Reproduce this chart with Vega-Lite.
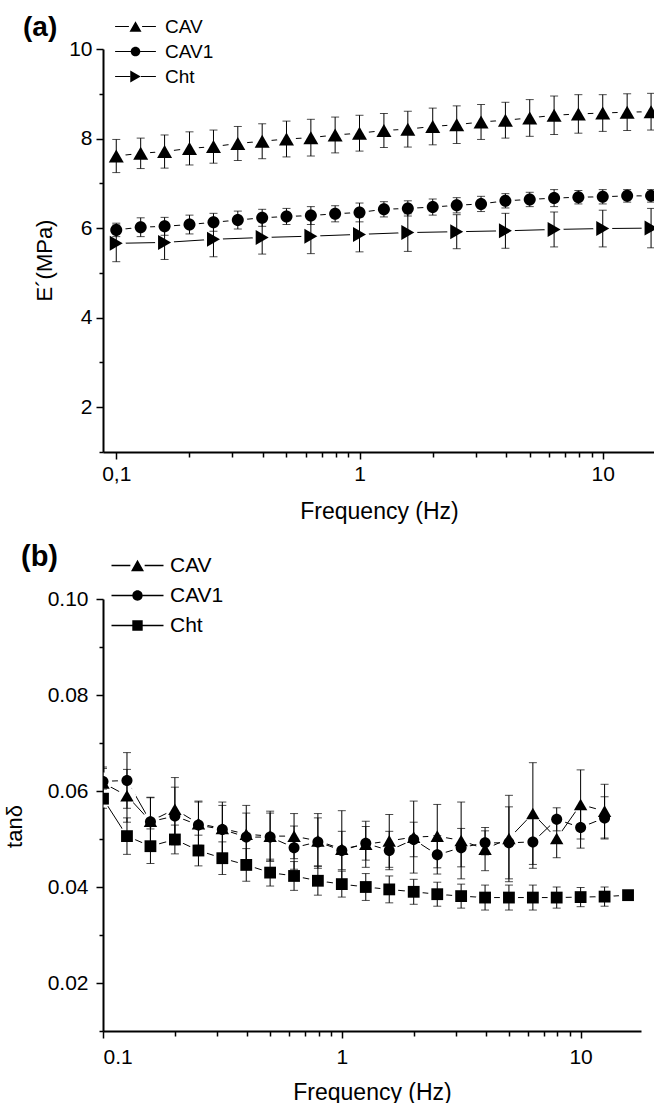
{
  "$schema": "https://vega.github.io/schema/vega-lite/v6.json",
  "background": "white",
  "padding": {"left": 3, "top": 14, "right": 0, "bottom": 0},
  "config": {
    "view": {"stroke": null},
    "font": "Liberation Sans",
    "axis": {
      "grid": false,
      "zindex": 1,
      "domainColor": "black",
      "domainWidth": 2,
      "tickColor": "black",
      "tickWidth": 1.5,
      "labelColor": "black",
      "labelFont": "Liberation Sans",
      "labelFontSize": 21,
      "labelOverlap": false,
      "titleColor": "black",
      "titleFont": "Liberation Sans",
      "titleFontSize": 22,
      "titleFontWeight": "normal"
    },
    "legend": {"labelFont": "Liberation Sans", "labelColor": "black"},
    "title": {"font": "Liberation Sans", "color": "black", "fontWeight": "bold"}
  },
  "datasets": {
    "storage": [
      {"series": "CAV", "freq": 0.1, "val": 7.61, "err": 0.37},
      {"series": "CAV", "freq": 0.126, "val": 7.67, "err": 0.34},
      {"series": "CAV", "freq": 0.158, "val": 7.71, "err": 0.37},
      {"series": "CAV", "freq": 0.2, "val": 7.78, "err": 0.37},
      {"series": "CAV", "freq": 0.251, "val": 7.82, "err": 0.37},
      {"series": "CAV", "freq": 0.316, "val": 7.89, "err": 0.38},
      {"series": "CAV", "freq": 0.398, "val": 7.94, "err": 0.39},
      {"series": "CAV", "freq": 0.501, "val": 7.99, "err": 0.4},
      {"series": "CAV", "freq": 0.631, "val": 8.02, "err": 0.41},
      {"series": "CAV", "freq": 0.794, "val": 8.08, "err": 0.4},
      {"series": "CAV", "freq": 1, "val": 8.12, "err": 0.4},
      {"series": "CAV", "freq": 1.26, "val": 8.18, "err": 0.38},
      {"series": "CAV", "freq": 1.58, "val": 8.21, "err": 0.4},
      {"series": "CAV", "freq": 2, "val": 8.27, "err": 0.41},
      {"series": "CAV", "freq": 2.51, "val": 8.31, "err": 0.42},
      {"series": "CAV", "freq": 3.16, "val": 8.37, "err": 0.39},
      {"series": "CAV", "freq": 3.98, "val": 8.41, "err": 0.4},
      {"series": "CAV", "freq": 5.01, "val": 8.46, "err": 0.41},
      {"series": "CAV", "freq": 6.31, "val": 8.52, "err": 0.43},
      {"series": "CAV", "freq": 7.94, "val": 8.55, "err": 0.43},
      {"series": "CAV", "freq": 10, "val": 8.57, "err": 0.41},
      {"series": "CAV", "freq": 12.6, "val": 8.59, "err": 0.41},
      {"series": "CAV", "freq": 15.8, "val": 8.6, "err": 0.41},
      {"series": "CAV1", "freq": 0.1, "val": 5.96, "err": 0.15},
      {"series": "CAV1", "freq": 0.126, "val": 6.02, "err": 0.21},
      {"series": "CAV1", "freq": 0.158, "val": 6.04, "err": 0.2},
      {"series": "CAV1", "freq": 0.2, "val": 6.08, "err": 0.21},
      {"series": "CAV1", "freq": 0.251, "val": 6.13, "err": 0.2},
      {"series": "CAV1", "freq": 0.316, "val": 6.18, "err": 0.2},
      {"series": "CAV1", "freq": 0.398, "val": 6.23, "err": 0.19},
      {"series": "CAV1", "freq": 0.501, "val": 6.26, "err": 0.18},
      {"series": "CAV1", "freq": 0.631, "val": 6.28, "err": 0.2},
      {"series": "CAV1", "freq": 0.794, "val": 6.32, "err": 0.18},
      {"series": "CAV1", "freq": 1, "val": 6.35, "err": 0.21},
      {"series": "CAV1", "freq": 1.26, "val": 6.42, "err": 0.17},
      {"series": "CAV1", "freq": 1.58, "val": 6.44, "err": 0.17},
      {"series": "CAV1", "freq": 2, "val": 6.47, "err": 0.18},
      {"series": "CAV1", "freq": 2.51, "val": 6.51, "err": 0.17},
      {"series": "CAV1", "freq": 3.16, "val": 6.54, "err": 0.17},
      {"series": "CAV1", "freq": 3.98, "val": 6.61, "err": 0.16},
      {"series": "CAV1", "freq": 5.01, "val": 6.64, "err": 0.16},
      {"series": "CAV1", "freq": 6.31, "val": 6.67, "err": 0.19},
      {"series": "CAV1", "freq": 7.94, "val": 6.69, "err": 0.15},
      {"series": "CAV1", "freq": 10, "val": 6.7, "err": 0.16},
      {"series": "CAV1", "freq": 12.6, "val": 6.72, "err": 0.14},
      {"series": "CAV1", "freq": 15.8, "val": 6.72, "err": 0.14},
      {"series": "Cht", "freq": 0.1, "val": 5.66, "err": 0.41},
      {"series": "Cht", "freq": 0.158, "val": 5.68, "err": 0.38},
      {"series": "Cht", "freq": 0.251, "val": 5.75, "err": 0.39},
      {"series": "Cht", "freq": 0.398, "val": 5.79, "err": 0.37},
      {"series": "Cht", "freq": 0.631, "val": 5.82, "err": 0.39},
      {"series": "Cht", "freq": 1, "val": 5.86, "err": 0.39},
      {"series": "Cht", "freq": 1.58, "val": 5.9, "err": 0.42},
      {"series": "Cht", "freq": 2.51, "val": 5.92, "err": 0.38},
      {"series": "Cht", "freq": 3.98, "val": 5.94, "err": 0.39},
      {"series": "Cht", "freq": 6.31, "val": 5.97, "err": 0.39},
      {"series": "Cht", "freq": 10, "val": 5.99, "err": 0.41},
      {"series": "Cht", "freq": 15.8, "val": 6.0, "err": 0.44}
    ],
    "loss": [
      {"series": "CAV", "freq": 0.1, "val": 0.0617, "err": 0.003},
      {"series": "CAV", "freq": 0.126, "val": 0.059, "err": 0.0055},
      {"series": "CAV", "freq": 0.158, "val": 0.0537, "err": 0.005},
      {"series": "CAV", "freq": 0.2, "val": 0.0562, "err": 0.0066},
      {"series": "CAV", "freq": 0.251, "val": 0.0532, "err": 0.0045},
      {"series": "CAV", "freq": 0.316, "val": 0.0522, "err": 0.0055},
      {"series": "CAV", "freq": 0.398, "val": 0.051, "err": 0.006},
      {"series": "CAV", "freq": 0.501, "val": 0.0506, "err": 0.0052},
      {"series": "CAV", "freq": 0.631, "val": 0.0506, "err": 0.0047},
      {"series": "CAV", "freq": 0.794, "val": 0.0496, "err": 0.0057},
      {"series": "CAV", "freq": 1, "val": 0.0479, "err": 0.008},
      {"series": "CAV", "freq": 1.26, "val": 0.0489, "err": 0.0048},
      {"series": "CAV", "freq": 1.58, "val": 0.0496, "err": 0.0055},
      {"series": "CAV", "freq": 2, "val": 0.0504, "err": 0.0075},
      {"series": "CAV", "freq": 2.51, "val": 0.0506, "err": 0.0066},
      {"series": "CAV", "freq": 3.16, "val": 0.0497, "err": 0.008},
      {"series": "CAV", "freq": 3.98, "val": 0.0479, "err": 0.0045},
      {"series": "CAV", "freq": 5.01, "val": 0.0501, "err": 0.009},
      {"series": "CAV", "freq": 6.31, "val": 0.0553, "err": 0.0106},
      {"series": "CAV", "freq": 7.94, "val": 0.0501, "err": 0.004},
      {"series": "CAV", "freq": 10, "val": 0.0572, "err": 0.0072},
      {"series": "CAV", "freq": 12.6, "val": 0.0558, "err": 0.0056},
      {"series": "CAV1", "freq": 0.1, "val": 0.062, "err": 0.003},
      {"series": "CAV1", "freq": 0.126, "val": 0.0622, "err": 0.0058},
      {"series": "CAV1", "freq": 0.158, "val": 0.0536, "err": 0.005},
      {"series": "CAV1", "freq": 0.2, "val": 0.0548, "err": 0.006},
      {"series": "CAV1", "freq": 0.251, "val": 0.0529, "err": 0.005},
      {"series": "CAV1", "freq": 0.316, "val": 0.052, "err": 0.005},
      {"series": "CAV1", "freq": 0.398, "val": 0.0504, "err": 0.005},
      {"series": "CAV1", "freq": 0.501, "val": 0.0504, "err": 0.005},
      {"series": "CAV1", "freq": 0.631, "val": 0.0482, "err": 0.0045},
      {"series": "CAV1", "freq": 0.794, "val": 0.0494, "err": 0.005},
      {"series": "CAV1", "freq": 1, "val": 0.0476, "err": 0.004},
      {"series": "CAV1", "freq": 1.26, "val": 0.0491, "err": 0.0035},
      {"series": "CAV1", "freq": 1.58, "val": 0.0476, "err": 0.004},
      {"series": "CAV1", "freq": 2, "val": 0.0499, "err": 0.0036},
      {"series": "CAV1", "freq": 2.51, "val": 0.0467, "err": 0.004},
      {"series": "CAV1", "freq": 3.16, "val": 0.0482, "err": 0.004},
      {"series": "CAV1", "freq": 3.98, "val": 0.0492, "err": 0.0025},
      {"series": "CAV1", "freq": 5.01, "val": 0.0492, "err": 0.0075},
      {"series": "CAV1", "freq": 6.31, "val": 0.0494, "err": 0.0055},
      {"series": "CAV1", "freq": 7.94, "val": 0.0541, "err": 0.0024},
      {"series": "CAV1", "freq": 10, "val": 0.0524, "err": 0.0043},
      {"series": "CAV1", "freq": 12.6, "val": 0.0544, "err": 0.0044},
      {"series": "Cht", "freq": 0.1, "val": 0.0584, "err": 0.002},
      {"series": "Cht", "freq": 0.126, "val": 0.0506, "err": 0.0038},
      {"series": "Cht", "freq": 0.158, "val": 0.0485, "err": 0.0036},
      {"series": "Cht", "freq": 0.2, "val": 0.0499, "err": 0.003},
      {"series": "Cht", "freq": 0.251, "val": 0.0476, "err": 0.0032},
      {"series": "Cht", "freq": 0.316, "val": 0.046, "err": 0.0034},
      {"series": "Cht", "freq": 0.398, "val": 0.0446, "err": 0.0034},
      {"series": "Cht", "freq": 0.501, "val": 0.043, "err": 0.0028},
      {"series": "Cht", "freq": 0.631, "val": 0.0423, "err": 0.003},
      {"series": "Cht", "freq": 0.794, "val": 0.0413, "err": 0.003},
      {"series": "Cht", "freq": 1, "val": 0.0406, "err": 0.0027},
      {"series": "Cht", "freq": 1.26, "val": 0.04, "err": 0.0028},
      {"series": "Cht", "freq": 1.58, "val": 0.0395, "err": 0.0028},
      {"series": "Cht", "freq": 2, "val": 0.039, "err": 0.0026},
      {"series": "Cht", "freq": 2.51, "val": 0.0385, "err": 0.0025},
      {"series": "Cht", "freq": 3.16, "val": 0.0381, "err": 0.0025},
      {"series": "Cht", "freq": 3.98, "val": 0.0378, "err": 0.0026},
      {"series": "Cht", "freq": 5.01, "val": 0.0378, "err": 0.0026},
      {"series": "Cht", "freq": 6.31, "val": 0.0378, "err": 0.0026},
      {"series": "Cht", "freq": 7.94, "val": 0.0378, "err": 0.0022},
      {"series": "Cht", "freq": 10, "val": 0.0379, "err": 0.002},
      {"series": "Cht", "freq": 12.6, "val": 0.038, "err": 0.002},
      {"series": "Cht", "freq": 15.8, "val": 0.0383, "err": 0}
    ]
  },
  "spacing": 147,
  "bounds": "flush",
  "vconcat": [
    {
      "width": 552,
      "height": 403,
      "data": {"name": "storage"},
      "title": {"text": "(a)", "anchor": "start", "frame": "group", "fontSize": 28, "offset": 0, "dx": -80, "dy": 25},
      "encoding": {
        "x": {
          "field": "freq", "type": "quantitative",
          "scale": {"type": "log", "domain": [0.0882, 16.4], "nice": false},
          "axis": {
            "title": "Frequency (Hz)",
            "titleFontSize": 23,
            "values": [0.1, 0.2, 0.3, 0.4, 0.5, 0.6, 0.7, 0.8, 0.9, 1, 2, 3, 4, 5, 6, 7, 8, 9, 10],
            "labelExpr": "datum.value == 0.1 ? '0,1' : datum.value == 1 ? '1' : datum.value == 10 ? '10' : ''",
            "tickSize": {"condition": {"test": "datum.value == 0.1 || datum.value == 1 || datum.value == 10", "value": 7}, "value": 5},
            "labelPadding": 4,
            "titlePadding": 16
          }
        },
        "y": {
          "field": "val", "type": "quantitative",
          "scale": {"domain": [1, 10], "nice": false, "zero": false},
          "axis": {
            "title": "E´(MPa)",
            "values": [1, 2, 3, 4, 5, 6, 7, 8, 9, 10],
            "labelExpr": "datum.value % 2 == 0 ? datum.label : ''",
            "tickSize": {"condition": {"test": "datum.value % 2 == 0", "value": 7}, "value": 4},
            "labelPadding": 4,
            "titlePadding": 12,
            "titleY": 211
          }
        }
      },
      "layer": [
        {
          "mark": {"type": "line", "color": "black", "strokeWidth": 1, "clip": true},
          "encoding": {"detail": {"field": "series", "type": "nominal"}}
        },
        {
          "mark": {"type": "point", "shape": "circle", "filled": true, "color": "white", "opacity": 1, "size": 360, "clip": true}
        },
        {
          "mark": {"type": "errorbar", "ticks": true, "size": 8, "thickness": 1, "color": "black", "clip": true},
          "encoding": {"yError": {"field": "err"}}
        },
        {
          "mark": {"type": "point", "filled": true, "color": "black", "opacity": 1, "size": 225, "clip": true},
          "encoding": {
            "shape": {
              "field": "series", "type": "nominal",
              "scale": {"domain": ["CAV", "CAV1", "Cht"], "range": ["triangle-up", "M-0.8,0A0.8,0.8,0,1,0,0.8,0A0.8,0.8,0,1,0,-0.8,0Z", "triangle-right"]},
              "legend": null
            }
          }
        },
        {
          "transform": [{"filter": "false"}],
          "mark": {"type": "point", "filled": true, "fill": "black", "stroke": "black", "strokeWidth": 1.3, "size": 144},
          "encoding": {
            "shape": {
              "field": "series", "type": "nominal",
              "scale": {"domain": ["CAV", "CAV1", "Cht"], "range": [
                "M-3.4,-0.1H-1.1V0.1H-3.4ZM1.1,-0.1H3.4V0.1H1.1ZM0,-0.87L1,0.87L-1,0.87Z",
                "M-3.4,-0.1H-0.8V0.1H-3.4ZM0.8,-0.1H3.4V0.1H0.8ZM-0.8,0A0.8,0.8,0,1,0,0.8,0A0.8,0.8,0,1,0,-0.8,0Z",
                "M-3.4,-0.1H-0.9V0.1H-3.4ZM0.9,-0.1H3.4V0.1H0.9ZM-0.87,-1L0.87,0L-0.87,1Z"
              ]},
              "legend": {
                "orient": "none", "legendX": 23, "legendY": -32, "title": null, "padding": 0,
                "labelFontSize": 19, "labelOffset": 20, "rowPadding": 5,
                "symbolSize": 144, "symbolStrokeWidth": 1.3, "symbolStrokeColor": "black", "symbolFillColor": "black", "symbolOpacity": 1,
                "encode": {"symbols": {"stroke": {"value": "black"}, "strokeWidth": {"value": 1.3}, "fill": {"value": "black"}}}
              }
            }
          }
        }
      ],
      "resolve": {"scale": {"shape": "independent"}, "legend": {"shape": "independent"}}
    },
    {
      "width": 538,
      "height": 432,
      "data": {"name": "loss"},
      "title": {"text": "(b)", "anchor": "start", "frame": "group", "fontSize": 29, "offset": 0, "dx": -82, "dy": 17},
      "encoding": {
        "x": {
          "field": "freq", "type": "quantitative",
          "scale": {"type": "log", "domain": [0.1, 17.9], "nice": false},
          "axis": {
            "title": "Frequency (Hz)",
            "titleFontSize": 23,
            "values": [0.1, 0.2, 0.3, 0.4, 0.5, 0.6, 0.7, 0.8, 0.9, 1, 2, 3, 4, 5, 6, 7, 8, 9, 10],
            "labelExpr": "datum.value == 0.1 ? '0.1' : datum.value == 1 ? '1' : datum.value == 10 ? '10' : ''",
            "tickSize": {"condition": {"test": "datum.value == 0.1 || datum.value == 1 || datum.value == 10", "value": 7}, "value": 5},
            "labelPadding": 8,
            "titlePadding": 14
          }
        },
        "y": {
          "field": "val", "type": "quantitative",
          "scale": {"domain": [0.01, 0.1], "nice": false, "zero": false},
          "axis": {
            "title": "tanδ",
            "values": [0.01, 0.02, 0.03, 0.04, 0.05, 0.06, 0.07, 0.08, 0.09, 0.1],
            "labelExpr": "round(datum.value * 100) % 2 == 0 ? format(datum.value, '.2f') : ''",
            "tickSize": {"condition": {"test": "round(datum.value * 100) % 2 == 0", "value": 7}, "value": 4},
            "labelPadding": 8,
            "titlePadding": 21,
            "titleY": 227
          }
        }
      },
      "layer": [
        {
          "mark": {"type": "line", "color": "black", "strokeWidth": 1, "clip": true},
          "encoding": {"detail": {"field": "series", "type": "nominal"}}
        },
        {
          "mark": {"type": "point", "shape": "circle", "filled": true, "color": "white", "opacity": 1, "size": 330, "clip": true}
        },
        {
          "mark": {"type": "errorbar", "ticks": true, "size": 8, "thickness": 1, "color": "black", "clip": true},
          "encoding": {"yError": {"field": "err"}}
        },
        {
          "mark": {"type": "point", "filled": true, "color": "black", "opacity": 1, "size": 180, "clip": true},
          "encoding": {
            "shape": {
              "field": "series", "type": "nominal",
              "scale": {"domain": ["CAV", "CAV1", "Cht"], "range": ["triangle-up", "M-0.82,0A0.82,0.82,0,1,0,0.82,0A0.82,0.82,0,1,0,-0.82,0Z", "M-0.88,-0.88H0.88V0.88H-0.88Z"]},
              "legend": null
            }
          }
        },
        {
          "transform": [{"filter": "false"}],
          "mark": {"type": "point", "filled": true, "fill": "black", "stroke": "black", "strokeWidth": 1.3, "size": 169},
          "encoding": {
            "shape": {
              "field": "series", "type": "nominal",
              "scale": {"domain": ["CAV", "CAV1", "Cht"], "range": [
                "M-4,-0.1H-1.1V0.1H-4ZM1.1,-0.1H4V0.1H1.1ZM0,-0.87L1,0.87L-1,0.87Z",
                "M-4,-0.1H-0.8V0.1H-4ZM0.8,-0.1H4V0.1H0.8ZM-0.8,0A0.8,0.8,0,1,0,0.8,0A0.8,0.8,0,1,0,-0.8,0Z",
                "M-4,-0.1H-0.8V0.1H-4ZM0.8,-0.1H4V0.1H0.8ZM-0.8,-0.8H0.8V0.8H-0.8Z"
              ]},
              "legend": {
                "orient": "none", "legendX": 24, "legendY": -44, "title": null, "padding": 0,
                "labelFontSize": 21, "labelOffset": 22, "rowPadding": 8,
                "symbolSize": 169, "symbolStrokeWidth": 1.3, "symbolStrokeColor": "black", "symbolFillColor": "black", "symbolOpacity": 1,
                "encode": {"symbols": {"stroke": {"value": "black"}, "strokeWidth": {"value": 1.3}, "fill": {"value": "black"}}}
              }
            }
          }
        }
      ],
      "resolve": {"scale": {"shape": "independent"}, "legend": {"shape": "independent"}}
    }
  ]
}
